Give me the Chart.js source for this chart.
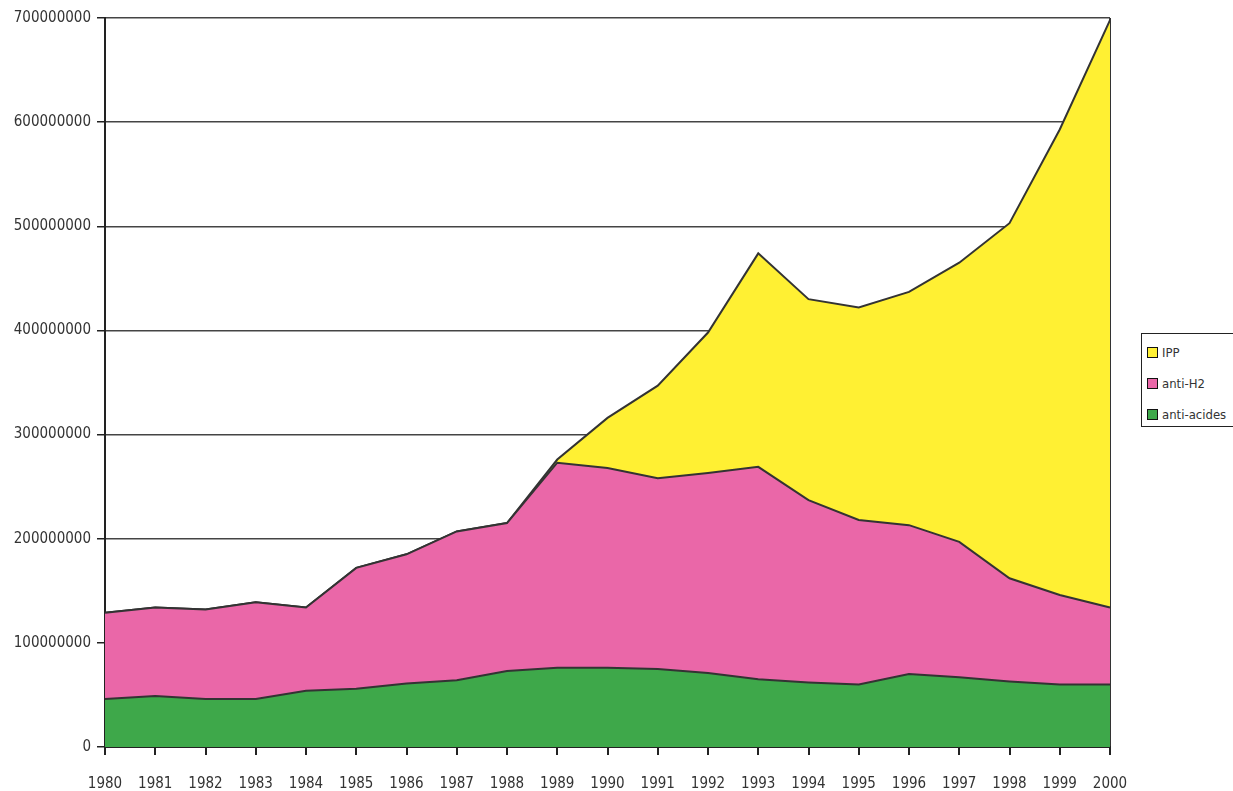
<!DOCTYPE html>
<html>
<head>
<meta charset="utf-8">
<script src="https://cdn.jsdelivr.net/npm/chart.js@4/dist/chart.umd.min.js"></script>
<style>
  html, body { margin: 0; padding: 0; background: #fff; }
  #wrap { position: relative; width: 1233px; height: 791px; overflow: hidden; }
  #legend {
    position: absolute; left: 1141px; top: 333px; width: 110px; height: 94px;
    border: 1px solid #222; box-sizing: border-box; background: #fff;
    font-family: "DejaVu Sans Condensed", "Liberation Sans Narrow", sans-serif;
    font-size: 13px; color: #333;
  }
  .item { position: absolute; left: 5px; height: 14px; line-height: 14px; white-space: nowrap; }
  .sw { display: inline-block; width: 9px; height: 9px; border: 1px solid #111; vertical-align: -1px; margin-right: 4px; }
</style>
</head>
<body>
<div id="wrap">
  <canvas id="c" width="1233" height="791"></canvas>
  <div id="legend"></div>
</div>
<script>
const years = ["1980","1981","1982","1983","1984","1985","1986","1987","1988","1989","1990",
               "1991","1992","1993","1994","1995","1996","1997","1998","1999","2000"];
const antiAcides = [46000000, 49000000, 46000000, 46000000, 54000000, 56000000, 61000000, 64000000, 73000000, 76000000, 76000000,
                    75000000, 71000000, 65000000, 62000000, 60000000, 70000000, 67000000, 63000000, 60000000, 60000000];
const antiH2 = [83000000, 85000000, 86000000, 93000000, 80000000, 116000000, 124000000, 143000000, 142000000, 197000000, 192000000,
                183000000, 192000000, 204000000, 175000000, 158000000, 143000000, 130000000, 99000000, 86000000, 74000000];
const ipp = [0, 0, 0, 0, 0, 0, 0, 0, 0, 3000000, 48000000,
             89000000, 135000000, 205000000, 193000000, 204000000, 224000000, 268000000, 341000000, 447000000, 564000000];
const yTicks = [0, 100000000, 200000000, 300000000, 400000000, 500000000, 600000000, 700000000];

const seriesNames = ["anti-acides", "anti-H2", "IPP"];
const seriesColors = ["#3ea84a", "#ea67a8", "#fff033"];
const seriesData = [antiAcides, antiH2, ipp];

const font = { family: '"DejaVu Sans Condensed", "Liberation Sans Narrow", sans-serif', size: 15 };

const datasets = seriesData.map((d, i) => ({
  label: seriesNames[i],
  data: d,
  backgroundColor: seriesColors[i],
  borderColor: "#333",
  borderWidth: 2,
  fill: i === 0 ? "origin" : "-1",
  pointRadius: 0,
  tension: 0
}));

new Chart(document.getElementById("c"), {
  type: "line",
  data: { labels: years, datasets },
  options: {
    responsive: false,
    animation: false,
    layout: { padding: { top: 18, right: 123, left: 0, bottom: 0 } },
    plugins: { legend: { display: false }, tooltip: { enabled: false } },
    scales: {
      x: {
        offset: false,
        grid: {
          display: true,
          drawOnChartArea: true,
          color: (ctx) => ctx.index === years.length - 1 ? "#333" : "rgba(0,0,0,0)",
          tickColor: "#222",
          tickLength: 8,
          lineWidth: 2
        },
        border: { display: true, color: "#222", width: 2 },
        ticks: { color: "#333", font, padding: 20, maxRotation: 0, autoSkip: false },
        afterFit: (s) => { s.height = 44; }
      },
      y: {
        stacked: true,
        min: 0,
        max: 700000000,
        afterBuildTicks: (s) => { s.ticks = yTicks.map(v => ({ value: v })); },
        grid: { color: "#444", lineWidth: 1.5, tickColor: "#222", tickLength: 8 },
        border: { display: true, color: "#222", width: 2 },
        ticks: { color: "#333", font, padding: 6, callback: (v) => String(v) },
        afterFit: (s) => { s.width = 105; }
      }
    }
  }
});

const legend = document.getElementById("legend");
[2, 1, 0].forEach((i, k) => {
  const el = document.createElement("div");
  el.className = "item";
  el.style.top = (12 + k * 31) + "px";
  el.innerHTML = '<span class="sw" style="background:' + seriesColors[i] + '"></span>' + seriesNames[i];
  legend.appendChild(el);
});
</script>
</body>
</html>
